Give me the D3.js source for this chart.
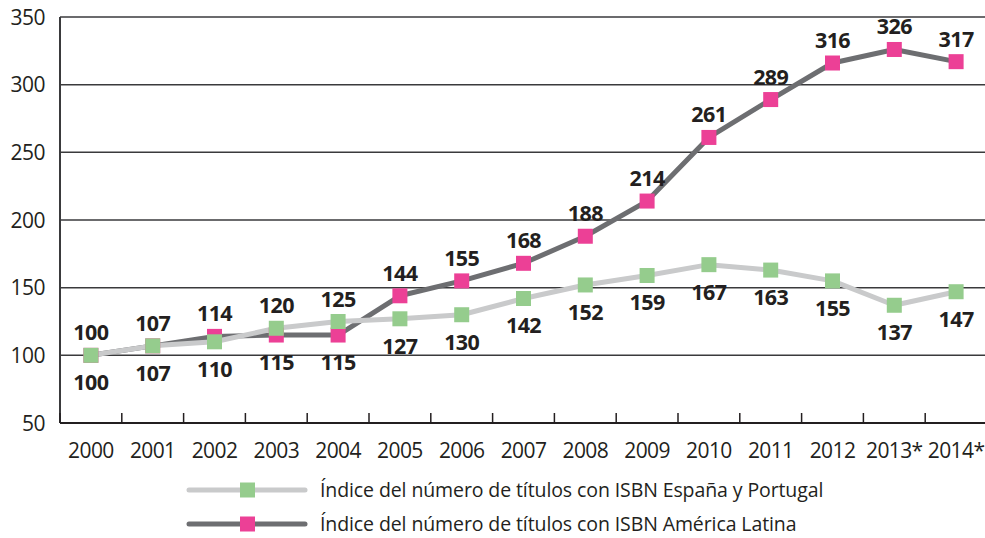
<!DOCTYPE html>
<html>
<head>
<meta charset="utf-8">
<script src="https://cdn.jsdelivr.net/npm/d3@7"></script>
<style>
  body { margin: 0; background: #fff; }
  text { font-family: "Open Sans", sans-serif; fill: #231f20; }
</style>
</head>
<body>
<div id="vis"></div>
<script>
var years = ['2000', '2001', '2002', '2003', '2004', '2005', '2006', '2007',
             '2008', '2009', '2010', '2011', '2012', '2013*', '2014*'];
var spainValues = [100, 107, 110, 120, 125, 127, 130, 142, 152, 159, 167, 163, 155, 137, 147];
var latamValues = [100, 107, 114, 115, 115, 144, 155, 168, 188, 214, 261, 289, 316, 326, 317];
var yTicks = [50, 100, 150, 200, 250, 300, 350];
var seriesNames = ['Índice del número de títulos con ISBN España y Portugal',
                   'Índice del número de títulos con ISBN América Latina'];

var width = 985;
var height = 538;
var margin = { left: 60, right: -2, top: 17, bottom: 115 };

var svg = d3.select('#vis')
    .append('svg')
    .attr('width', width)
    .attr('height', height);

var x = d3.scaleBand()
    .domain(years)
    .range([margin.left, width - margin.right]);

var y = d3.scaleLinear()
    .domain([50, 350])
    .range([height - margin.bottom, margin.top]);

// gridlines
svg.append('g')
    .selectAll('line')
    .data(yTicks.slice(1))
    .enter().append('line')
    .attr('x1', margin.left)
    .attr('x2', width)
    .attr('y1', (d) => y(d))
    .attr('y2', (d) => y(d))
    .attr('stroke', '#3a3a3c')
    .attr('stroke-width', 1.5);

// y axis labels
svg.append('g')
    .selectAll('text')
    .data(yTicks)
    .enter().append('text')
    .attr('x', 45)
    .attr('y', (d) => y(d))
    .attr('dy', '0.36em')
    .attr('text-anchor', 'end')
    .style('font-size', '21px')
    .style('letter-spacing', '-0.5px')
    .text((d) => d);

// axis lines
svg.append('line')
    .attr('x1', margin.left).attr('x2', margin.left)
    .attr('y1', y(350)).attr('y2', y(50))
    .attr('stroke', '#3a3a3c').attr('stroke-width', 2);
svg.append('line')
    .attr('x1', margin.left).attr('x2', width)
    .attr('y1', y(50)).attr('y2', y(50))
    .attr('stroke', '#231f20').attr('stroke-width', 2);

// category ticks pointing up
svg.append('g')
    .selectAll('line')
    .data(years)
    .enter().append('line')
    .attr('x1', (d) => x(d))
    .attr('x2', (d) => x(d))
    .attr('y1', y(50))
    .attr('y2', y(50) - 10)
    .attr('stroke', '#231f20')
    .attr('stroke-width', 1.5);

// x labels
svg.append('g')
    .selectAll('text')
    .data(years)
    .enter().append('text')
    .attr('x', (d) => x(d) + x.bandwidth() / 2)
    .attr('y', 458)
    .attr('text-anchor', 'middle')
    .style('font-size', '21px')
    .style('letter-spacing', '-0.6px')
    .text((d) => d);

var cx = (i) => x(years[i]) + x.bandwidth() / 2;
var line = d3.line()
    .x((d, i) => cx(i))
    .y((d) => y(d));

var series = [
    { name: seriesNames[1], values: latamValues, line: '#6d6e71', marker: '#ec4096', other: spainValues, first: true },
    { name: seriesNames[0], values: spainValues, line: '#c9cacb', marker: '#95cc8d', other: latamValues, first: false }
];

series.forEach(function (s) {
    svg.append('path')
        .datum(s.values)
        .attr('d', line)
        .attr('fill', 'none')
        .attr('stroke', s.line)
        .attr('stroke-width', 5)
        .attr('stroke-linejoin', 'round');
});

series.forEach(function (s) {
    svg.append('g')
        .selectAll('rect')
        .data(s.values)
        .enter().append('rect')
        .attr('x', (d, i) => cx(i) - 7.5)
        .attr('y', (d) => y(d) - 7.5)
        .attr('width', 15)
        .attr('height', 15)
        .attr('fill', s.marker);
});

// value labels: higher series above, lower below
series.forEach(function (s) {
    svg.append('g')
        .selectAll('text')
        .data(s.values)
        .enter().append('text')
        .attr('x', (d, i) => cx(i))
        .attr('y', function (d, i) {
            var above = d > s.other[i] || (d === s.other[i] && s.first);
            return above ? y(d) - 15 : y(d) + 35;
        })
        .attr('text-anchor', 'middle')
        .style('font-size', '21.5px')
        .style('font-weight', 'bold')
        .style('letter-spacing', '-0.6px')
        .text((d) => d);
});

// legend
var legend = svg.append('g');
[series[1], series[0]].forEach(function (s, i) {
    var ly = 490 + i * 34;
    legend.append('line')
        .attr('x1', 189).attr('x2', 305)
        .attr('y1', ly).attr('y2', ly)
        .attr('stroke', s.line)
        .attr('stroke-width', 5)
        .attr('stroke-linecap', 'round');
    legend.append('rect')
        .attr('x', 240).attr('y', ly - 7.5)
        .attr('width', 15).attr('height', 15)
        .attr('fill', s.marker);
    legend.append('text')
        .attr('x', 320)
        .attr('y', ly)
        .attr('dy', '0.34em')
        .style('font-size', '19.5px')
        .style('letter-spacing', '-0.1px')
        .text(s.name);
});
</script>
</body>
</html>
